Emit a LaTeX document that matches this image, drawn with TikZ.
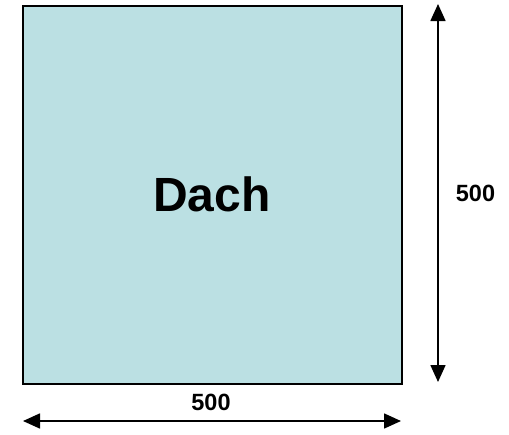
\documentclass[tikz,border=0pt]{standalone}
\usepackage{fontspec}
\setmainfont{Liberation Sans}
\usetikzlibrary{arrows.meta}
\definecolor{roof}{HTML}{BBE0E3}
\tikzset{
  dim/.style={line width=1.6pt, {Triangle[length=17pt,width=15pt]}-{Triangle[length=17pt,width=15pt]}},
  lbl/.style={font=\fontsize{23.5}{26}\selectfont\bfseries, inner sep=0pt},
}
\begin{document}
\begin{tikzpicture}[x=1pt,y=-1pt]
\useasboundingbox (0,0) rectangle (509,434);
\node[draw=black, line width=2pt, fill=roof, minimum width=379pt, minimum height=378pt, inner sep=0pt, anchor=north west,
  font=\fontsize{48}{52}\selectfont\bfseries] (roofbox) at (22,5) {};
\node[font=\fontsize{48}{52}\selectfont\bfseries, inner sep=0pt] (dach) at (212,194.5) {Dach};
\coordinate (vtop) at (438,4);
\coordinate (vbot) at (438,382);
\coordinate (hl) at (23,421);
\coordinate (hr) at (401,421);
\draw[dim] (vtop) -- (vbot);
\draw[dim] (hl) -- (hr);
\node[lbl] (vlabel) at (475.5,193.4) {500};
\node[lbl] (hlabel) at (211,402.7) {500};
\end{tikzpicture}
\end{document}
